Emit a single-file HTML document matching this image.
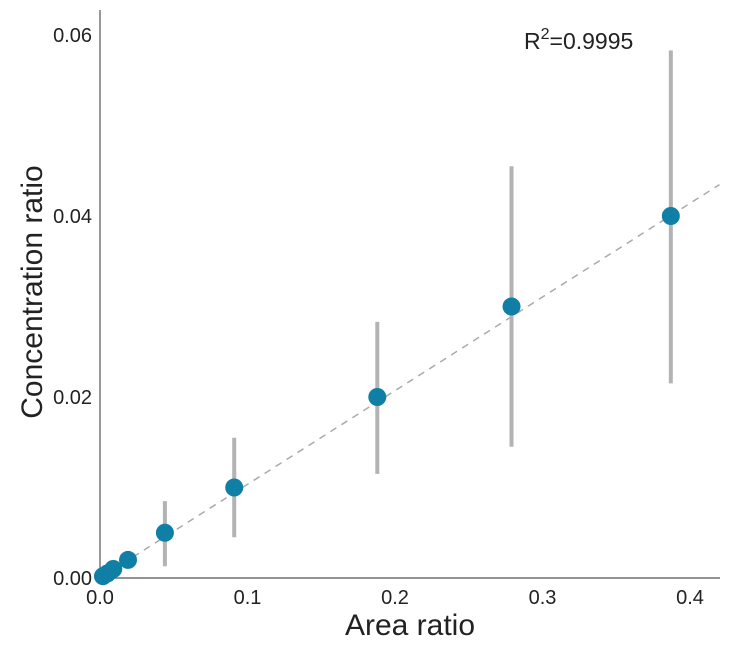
<!DOCTYPE html>
<html><head><meta charset="utf-8"><style>
body{margin:0;background:#fff;}
text{font-family:"Liberation Sans",sans-serif;fill:#222;}
</style></head><body>
<svg width="750" height="642" viewBox="0 0 750 642">
<g id="plot"></g>
</svg>
<script>
const xVals=[0.002,0.005,0.009,0.019,0.044,0.091,0.188,0.279,0.387];
const yVals=[0.0002,0.0005,0.001,0.002,0.005,0.01,0.02,0.03,0.04];
const errLow=[null,null,null,null,0.0013,0.0045,0.0115,0.0145,0.0215];
const errHigh=[null,null,null,null,0.0085,0.0155,0.0283,0.0455,0.0583];
const xTicks=[0,0.1,0.2,0.3,0.4];
const xTickLabels=["0.0","0.1","0.2","0.3","0.4"];
const yTicks=[0,0.02,0.04,0.06];
const yTickLabels=["0.00","0.02","0.04","0.06"];
const fitSlope=0.1035, fitIntercept=0;
const ns="http://www.w3.org/2000/svg";
const g=document.getElementById('plot');
const X=v=>100+v*1475;
const Y=v=>578-v*9050;
function mk(t,a,p){const e=document.createElementNS(ns,t);for(const k in a)e.setAttribute(k,a[k]);(p||g).appendChild(e);return e;}
let e=mk('line',{x1:100,y1:10,x2:100,y2:578,stroke:'#555','stroke-width':1.2});


e=mk('line',{x1:100,y1:578,x2:720,y2:578,stroke:'#555','stroke-width':1.2});


xTicks.forEach((v,i)=>{
 const t=mk('text',{x:X(v),y:604,'font-size':20,'text-anchor':'middle'});t.textContent=xTickLabels[i];
 
 
});
yTicks.forEach((v,i)=>{
 const t=mk('text',{x:92,y:Y(v)+7,'font-size':20,'text-anchor':'end'});t.textContent=yTickLabels[i];
 
 
});
e=mk('line',{x1:X(0),y1:Y(fitIntercept),x2:X(0.42),y2:Y(fitIntercept+fitSlope*0.42),stroke:'#aaa','stroke-width':1.5,'stroke-dasharray':'7,6'});


xVals.forEach((xv,i)=>{
 if(errLow[i]==null)return;
 const l=mk('line',{x1:X(xv),x2:X(xv),y1:Y(errLow[i]),y2:Y(errHigh[i]),stroke:'#b3b3b3','stroke-width':4});
 
 
});
xVals.forEach((xv,i)=>{
 const c=mk('circle',{cx:X(xv),cy:Y(yVals[i]),r:9,fill:'#0f7fa6'});
 
 
});
e=mk('text',{x:410,y:635,'font-size':30,'text-anchor':'middle'});e.textContent='Area ratio';


e=mk('text',{x:0,y:0,'font-size':30,'text-anchor':'middle',transform:'translate(42,292) rotate(-90)'});e.textContent='Concentration ratio';


e=mk('text',{x:524,y:49,'font-size':23});
e.innerHTML='R<tspan dy="-10" font-size="16">2</tspan><tspan dy="10">=0.9995</tspan>';


</script>
</body></html>
